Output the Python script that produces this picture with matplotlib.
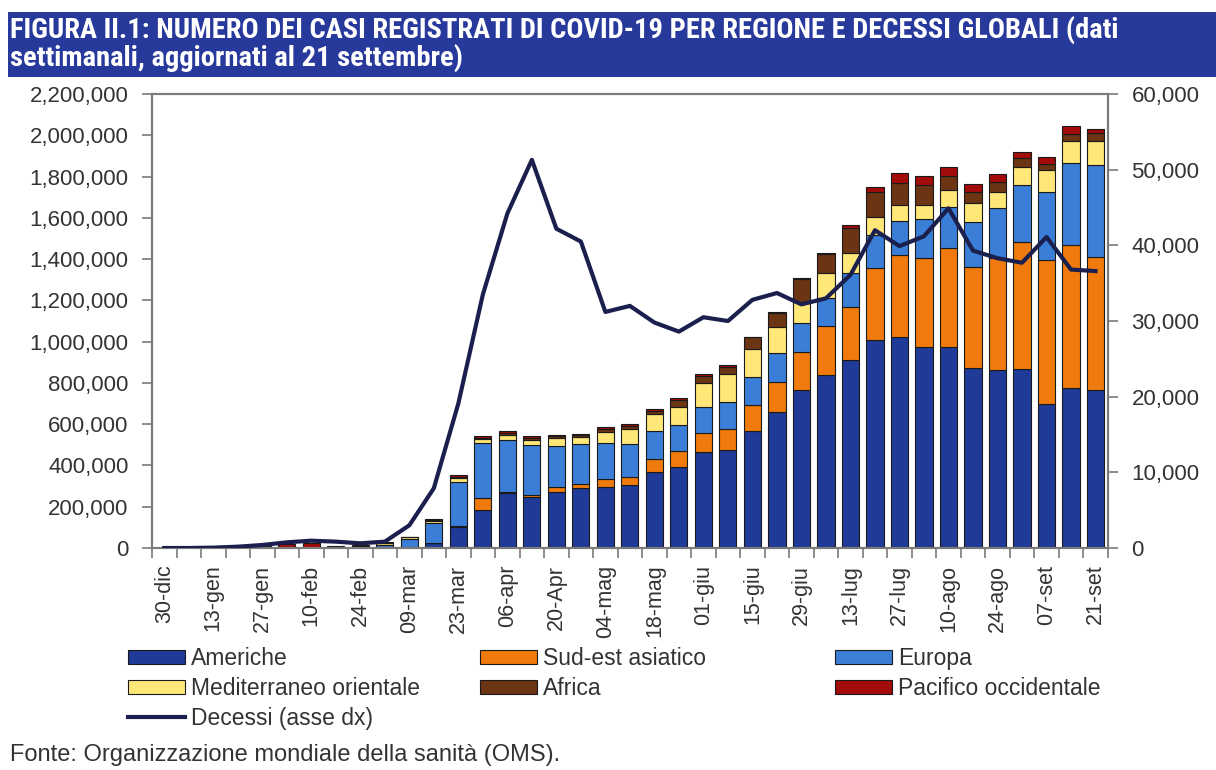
#!/usr/bin/env python3
"""Figura II.1 - casi COVID-19 settimanali per regione OMS e decessi globali."""
import matplotlib
matplotlib.use("Agg")
import matplotlib.pyplot as plt
import numpy as np
from matplotlib.patches import Patch, Rectangle
from matplotlib.lines import Line2D
from matplotlib.ticker import FuncFormatter, MultipleLocator

# weekly data, 30-dic-2019 .. 21-set-2020 (cases in thousands)
weeks = ["30-dic", "06-gen", "13-gen", "20-gen", "27-gen", "03-feb", "10-feb", "17-feb",
         "24-feb", "02-mar", "09-mar", "16-mar", "23-mar", "30-mar", "06-apr", "13-apr",
         "20-Apr", "27-apr", "04-mag", "11-mag", "18-mag", "25-mag", "01-giu", "08-giu",
         "15-giu", "22-giu", "29-giu", "06-lug", "13-lug", "20-lug", "27-lug", "03-ago",
         "10-ago", "17-ago", "24-ago", "31-ago", "07-set", "14-set", "21-set"]

americhe = [0, 0, 0, 0, 0, 0, 0, 0, 0, 2, 5, 23, 103, 184, 268, 246, 273, 289, 294, 305,
            370, 394, 467, 475, 568, 661, 766, 838, 911, 1008, 1024, 976, 976, 871, 863,
            866, 698, 774, 766]
sud_est = [0, 0, 0, 0, 0, 0, 0, 0, 0, 0, 1, 2, 3, 57, 5, 10, 21, 21, 39, 38,
           60, 78, 92, 100, 125, 145, 185, 237, 258, 348, 396, 431, 476, 492, 541,
           618, 698, 694, 646]
europa = [0, 0, 0, 0, 0, 0, 0, 1, 5, 15, 40, 95, 215, 266, 250, 243, 200, 194, 177, 161,
          138, 124, 126, 134, 137, 138, 138, 135, 162, 161, 165, 186, 202, 218, 242,
          275, 331, 399, 444]
mediterraneo = [0, 0, 0, 0, 0, 0, 0, 1, 3, 7, 6, 12, 20, 20, 25, 24, 38, 32, 54, 71,
                81, 89, 113, 134, 133, 129, 103, 125, 97, 89, 77, 69, 81, 89, 81,
                86, 105, 107, 118]
africa = [0, 0, 0, 0, 0, 0, 0, 0, 0, 0, 0.5, 2, 5, 8, 10, 10, 9, 10, 15, 18,
          16, 32, 37, 36, 58, 67, 110, 90, 125, 121, 108, 97, 68, 57, 48,
          44, 29, 32, 36]
pacifico = [0, 0.1, 0.2, 1.5, 10, 20, 25, 10, 5, 4, 3, 5, 8, 8, 10, 10, 7, 6, 9, 8,
            7, 8, 8, 8, 2, 5, 5, 6, 12, 21, 46, 44, 45, 37, 37,
            32, 32, 39, 19]
decessi = [0, 0, 50, 175, 400, 750, 970, 840, 620, 840, 3000, 7900, 19100, 33500,
           44200, 51300, 42200, 40500, 31200, 32000, 29800, 28600, 30500, 30000,
           32800, 33700, 32200, 33000, 36100, 42000, 39900, 41200, 44900, 39300,
           38300, 37700, 41100, 36800, 36600]

series = [
    ("Americhe", americhe, "#1f3a97"),
    ("Sud-est asiatico", sud_est, "#f07b0c"),
    ("Europa", europa, "#3b7ed8"),
    ("Mediterraneo orientale", mediterraneo, "#ffe778"),
    ("Africa", africa, "#6b3413"),
    ("Pacifico occidentale", pacifico, "#a30b0b"),
]
LINE_COL = "#1b1f4d"
GREY = "#7a7a7a"
TXT = "#333333"

plt.rcParams["font.family"] = ["Liberation Sans", "DejaVu Sans"]

fig = plt.figure(figsize=(12.16, 7.7), dpi=100)
ax = fig.add_axes([0.125, 0.2883, 0.786, 0.5896])

x = np.arange(len(weeks))
bottom = np.zeros(len(weeks))
for name, vals, col in series:
    v = np.array(vals, dtype=float) * 1000
    ax.bar(x, v, width=0.7, bottom=bottom, color=col, edgecolor="#1a1a1a",
           linewidth=0.8, label=name, zorder=2)
    bottom += v

ax.set_xlim(-0.5, len(weeks) - 0.5)
ax.set_ylim(0, 2200000)
ax.yaxis.set_major_locator(MultipleLocator(200000))
ax.yaxis.set_major_formatter(FuncFormatter(lambda v, p: f"{int(v):,}"))

# labels every two weeks, tick marks on category boundaries
ax.set_xticks(x[::2])
ax.set_xticklabels(weeks[::2], rotation=90)
ax.set_xticks(np.arange(-0.5, len(weeks)), minor=True)
ax.tick_params(axis="x", which="major", length=0, pad=12, labelsize=15.5, labelcolor=TXT)
ax.tick_params(axis="x", which="minor", length=7, width=1.2, color=GREY, direction="out")
ax.tick_params(axis="y", length=7, width=1.2, color=GREY, pad=10, labelsize=16,
               labelcolor=TXT)

for s in ax.spines.values():
    s.set_color(GREY)
    s.set_linewidth(1.5)

ax2 = ax.twinx()
ax2.plot(x, decessi, color=LINE_COL, lw=3, zorder=3)
ax2.set_ylim(0, 60000)
ax2.yaxis.set_major_locator(MultipleLocator(10000))
ax2.yaxis.set_major_formatter(FuncFormatter(lambda v, p: f"{int(v):,}"))
ax2.tick_params(axis="y", length=7, width=1.2, color=GREY, pad=10, labelsize=16,
                labelcolor=TXT)
for s in ax2.spines.values():
    s.set_color(GREY)
    s.set_linewidth(1.5)

# title banner
fig.patches.append(Rectangle((8 / 1216, 1 - 77 / 770), 1, 65 / 770,
                             transform=fig.transFigure, facecolor="#27399a",
                             edgecolor="none", zorder=0))
title_kw = dict(color="white", fontsize=20.5, fontweight="bold", va="center",
                fontstretch="condensed",
                family=["Roboto Condensed", "Liberation Sans", "DejaVu Sans"])
fig.text(10 / 1216, 1 - 30 / 770,
         "FIGURA II.1: NUMERO DEI CASI REGISTRATI DI COVID-19 PER REGIONE E DECESSI GLOBALI (dati",
         **title_kw)
fig.text(10 / 1216, 1 - 58 / 770, "settimanali, aggiornati al 21 settembre)", **title_kw)

# legend in three columns
patches = {name: Patch(facecolor=col, edgecolor="#1a1a1a", linewidth=0.8)
           for name, _, col in series}
line_h = Line2D([], [], color=LINE_COL, lw=3)
cols = [
    (128, [("Americhe", patches["Americhe"]),
           ("Mediterraneo orientale", patches["Mediterraneo orientale"]),
           ("Decessi (asse dx)", line_h)]),
    (480, [("Sud-est asiatico", patches["Sud-est asiatico"]),
           ("Africa", patches["Africa"])]),
    (835, [("Europa", patches["Europa"]),
           ("Pacifico occidentale", patches["Pacifico occidentale"])]),
]
for xpx, items in cols:
    fig.legend([h for _, h in items], [n for n, _ in items],
               loc="upper left", bbox_to_anchor=(xpx / 1216, 1 - 647 / 770),
               frameon=False, borderpad=0, borderaxespad=0, fontsize=16.5,
               handlelength=2.5, handleheight=0.55, handletextpad=0.25,
               labelspacing=0.3, labelcolor=TXT)

fig.text(10 / 1216, 1 - 755 / 770, "Fonte: Organizzazione mondiale della sanità (OMS).",
         fontsize=17, color=TXT, va="center")

fig.savefig("out.png", dpi=100)
